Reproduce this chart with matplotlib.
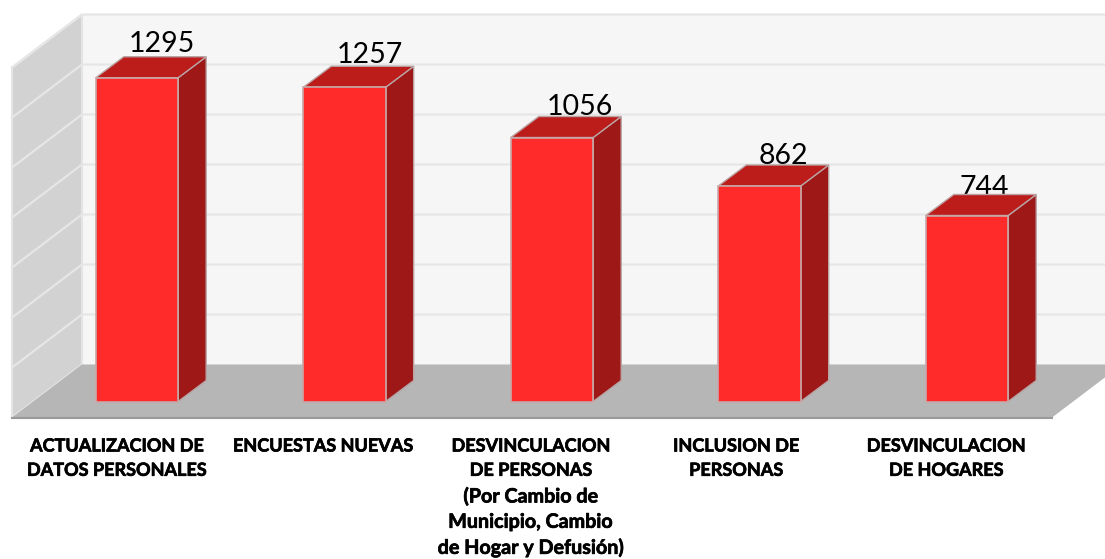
#!/usr/bin/python3

import numpy as np
import matplotlib
matplotlib.use("Agg")
import matplotlib.pyplot as plt
import matplotlib.patheffects as pe

categories = [
    "ACTUALIZACION DE\nDATOS PERSONALES",
    "ENCUESTAS NUEVAS",
    "DESVINCULACION\nDE PERSONAS",
    "INCLUSION DE\nPERSONAS",
    "DESVINCULACION\nDE HOGARES",
]
# lowercase note under the third category, Lato runs narrow there
category_note = "(Por Cambio de\nMunicipio, Cambio\nde Hogar y Defusión)"
values = [1295, 1257, 1056, 862, 744]
grid_values = [200, 400, 600, 800, 1000, 1200, 1400]

plt.rcParams["font.family"] = ["Lato", "DejaVu Sans"]

# chart scale: 207.5 px per category, 0.25 px per unit
fig = plt.figure(figsize=(11.05, 5.59), dpi=100)
ax = fig.add_axes([0, 0, 1, 1])
ax.set_xlim(-0.66, 4.665)
ax.set_ylim(-630, 1606)
ax.axis("off")

bar_w = 0.397
depth_x = 0.135   # oblique depth of a bar
depth_y = 84
floor_y = -64     # front edge of the floor
wall_y = 148      # where floor meets back wall
wall_x = -0.265
left_x = -0.602
floor_right = 4.41
right_x = 4.665
floor_end = floor_right + (wall_x - left_x)

# the labels don't sit at the same place on each bar
value_dx = [0.121, 0.12, 0.133, 0.113, 0.085]
value_dy = [18, 14, 6, 6, -6]
label_dx = [-0.097, -0.103, -0.101, -0.112, -0.1]
heavier = [pe.withStroke(linewidth=0.5, foreground="black")]

# back wall
ax.fill([wall_x, right_x, right_x, wall_x],
        [wall_y, wall_y, wall_y + 1400, wall_y + 1400],
        color="#f6f6f6", lw=0, zorder=1)
# side wall
ax.fill([left_x, wall_x, wall_x, left_x],
        [floor_y, wall_y, wall_y + 1400, floor_y + 1400],
        facecolor="#d2d2d2", edgecolor="#e4e4e4", lw=1.5, zorder=1)
# floor
ax.fill([left_x, floor_right, floor_end, wall_x],
        [floor_y, floor_y, wall_y, wall_y],
        color="#b6b6b6", lw=0, zorder=2)
ax.plot([left_x, floor_right], [floor_y, floor_y], color="#9a9a9a", lw=1.5, zorder=2)

for g in grid_values:
    ax.plot([left_x, wall_x, right_x], [floor_y + g, wall_y + g, wall_y + g],
            color="#e6e6e6", lw=1.6, zorder=1.5)

x = np.arange(len(values))
ax.bar(x, values, width=bar_w, color="#ff2a2a", edgecolor="#c8a8a8", lw=1.2, zorder=4)

for i, v in enumerate(values):
    l, r = i - bar_w / 2, i + bar_w / 2
    # side face
    ax.fill([r, r + depth_x, r + depth_x, r],
            [0, depth_y, v + depth_y, v],
            facecolor="#9e1818", edgecolor="#b9a3a3", lw=1, zorder=3)
    # top face
    ax.fill([l, r, r + depth_x, l + depth_x],
            [v, v, v + depth_y, v + depth_y],
            facecolor="#bc1c1a", edgecolor="#b9a3a3", lw=1, zorder=3)
    ax.text(i + value_dx[i], v + depth_y + value_dy[i], str(v), ha="center", va="baseline",
            fontsize=20.5, color="black", zorder=2.5)
    ax.text(i + label_dx[i], -144, categories[i], ha="center", va="top", fontsize=13,
            fontweight="bold", color="black", linespacing=1.52, zorder=5, path_effects=heavier)

ax.text(2 + label_dx[2], -340, category_note, ha="center", va="top", fontsize=14.2,
        fontweight="bold", color="black", linespacing=1.33, zorder=5, path_effects=heavier)

fig.savefig("out.png", dpi=100)
